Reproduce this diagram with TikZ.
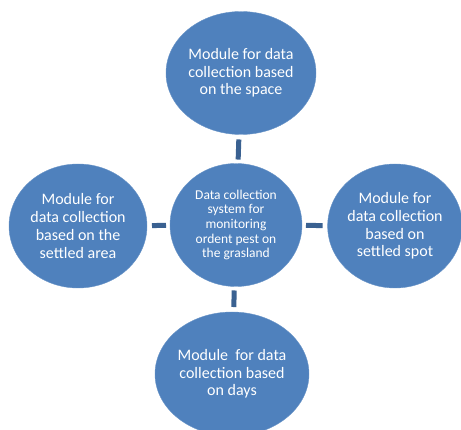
\documentclass[tikz,border=0pt]{standalone}
\usepackage{fontspec}
\setmainfont{Carlito}
\usetikzlibrary{shapes.geometric}
\definecolor{modblue}{HTML}{4F81BD}
\definecolor{linkblue}{HTML}{3A6191}
\tikzstyle{module} = [ellipse,fill=modblue,draw=modblue!85!white,thin,text=white,align=center,inner sep=0pt,outer sep=0pt,font=\fontsize{16}{17.7}\selectfont]
\tikzstyle{link} = [draw=linkblue,line width=5pt,shorten >=5pt,shorten <=4pt]

\begin{document}
\begin{tikzpicture}[x=1pt,y=-1pt]
\clip (0,0) rectangle (461,430);
\useasboundingbox (0,0) rectangle (461,430);
\node[module,minimum width=132pt,minimum height=123pt,font=\fontsize{13.5}{14.7}\selectfont] (sys) at (236,225) {Data collection\\system for\\monitoring\\ordent pest on\\the grasland};
\node[module,minimum width=150pt,minimum height=123pt] (space) at (241,73) {Module for data\\collection based\\on the space};
\node[module,minimum width=138pt,minimum height=124pt] (area) at (78,226) {Module for\\data collection\\based on the\\settled area};
\node[module,minimum width=134pt,minimum height=124pt] (spot) at (395,226) {Module for\\data collection\\based on\\settled spot};
\node[module,minimum width=154pt,minimum height=124pt] (days) at (232,374) {Module\ \ for data\\collection based\\on days};
\draw[link] (sys) -- (space);
\draw[link] (sys) -- (days);
\draw[link] (sys) -- (area);
\draw[link] (sys) -- (spot);
\end{tikzpicture}
\end{document}
